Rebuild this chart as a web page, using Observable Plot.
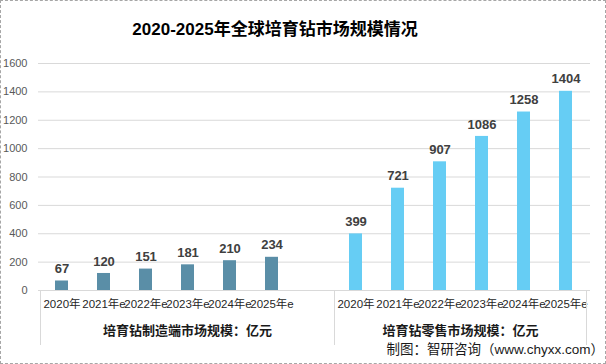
<!DOCTYPE html>
<html>
<head>
<meta charset="utf-8">
<script src="https://cdn.jsdelivr.net/npm/d3@7"></script>
<script src="https://cdn.jsdelivr.net/npm/@observablehq/plot@0.6"></script>
<style>
  html, body { margin: 0; padding: 0; background: #fff; }
  #wrap { position: relative; width: 606px; height: 364px; overflow: hidden; background: #fff;
          font-family: "Liberation Sans", "Noto Sans CJK SC", sans-serif; }
  #wrap svg { position: absolute; left: 0; top: 0; }
  #title { position: absolute; left: 0; width: 550px; top: 20px; text-align: center;
           font-size: 17px; line-height: 20px; font-weight: bold; color: #000; }
  #footer { position: absolute; right: 2px; top: 342px; font-size: 13.5px; line-height: 16px; color: #1a1a1a; white-space: nowrap; }
  #border { position: absolute; left: 0; top: 0; right: 0; bottom: 0; border: 1px dashed #a6a6a6; pointer-events: none; }
  .catlabel text { letter-spacing: -0.25px; }
</style>
</head>
<body>
<div id="wrap">
  <div id="title"></div>
  <div id="footer"></div>
  <div id="border"></div>
</div>
<script>
const titleText = "2020-2025年全球培育钻市场规模情况";
const footerText = "制图：智研咨询（www.chyxx.com）";
const years = ["2020年", "2021年e", "2022年e", "2023年e", "2024年e", "2025年e"];
const groups = ["培育钻制造端市场规模：亿元", "培育钻零售市场规模：亿元"];
const manufacturing = [67, 120, 151, 181, 210, 234];
const retail = [399, 721, 907, 1086, 1258, 1404];
const yTicks = [0, 200, 400, 600, 800, 1000, 1200, 1400, 1600];
const colors = ["#5A8EA7", "#66CDF4"];

document.getElementById("title").textContent = titleText;
document.getElementById("footer").textContent = footerText;

const series = [manufacturing, retail];
const rows = [];
groups.forEach((g, gi) => years.forEach((yr, i) => rows.push({group: g, year: yr, key: gi + "|" + yr, value: series[gi][i]})));
const blankKey = "0|blank";
const domainX = [...rows.filter(d => d.group === groups[0]).map(d => d.key), blankKey,
                 ...rows.filter(d => d.group === groups[1]).map(d => d.key)];
const groupKeys = [
  [...rows.filter(d => d.group === groups[0]).map(d => d.key), blankKey],
  rows.filter(d => d.group === groups[1]).map(d => d.key)
];

const font = "Liberation Sans, Noto Sans CJK SC, sans-serif";

function groupFrame(index, scales, values, dim) {
  const x = scales.x;
  const step = x.step(), bw = x.bandwidth();
  const pad = (step - bw) / 2;
  const yBottom = dim.height - dim.marginBottom;
  const g = d3.create("svg:g");
  const edges = [];
  groupKeys.forEach((keys, gi) => {
    const x0 = x(keys[0]) - pad;
    const x1 = x(keys[keys.length - 1]) + bw + pad;
    if (gi === 0) edges.push(x0);
    edges.push(x1);
    g.append("text")
      .attr("x", (x0 + x1) / 2)
      .attr("y", yBottom + 42)
      .attr("text-anchor", "middle")
      .attr("dominant-baseline", "middle")
      .attr("font-family", font)
      .attr("font-size", 13)
      .attr("font-weight", "bold")
      .attr("fill", "#1a1a1a")
      .text(groups[gi]);
  });
  edges.forEach(e => g.append("line")
    .attr("x1", e).attr("x2", e)
    .attr("y1", yBottom).attr("y2", yBottom + 55)
    .attr("stroke", "#d9d9d9"));
  return g.node();
}

const plot = Plot.plot({
  width: 606,
  height: 364,
  marginLeft: 38,
  marginRight: 16,
  marginTop: 63,
  marginBottom: 74,
  style: {background: "transparent", fontFamily: font},
  x: {domain: domainX, paddingInner: 0.69, paddingOuter: 0.345, axis: null},
  y: {domain: [0, 1600], ticks: yTicks, tickFormat: d => String(d), tickSize: 0, tickPadding: 11, label: null, fontSize: 11},
  color: {domain: groups, range: colors},
  marks: [
    Plot.ruleY(yTicks, {stroke: "#d9d9d9"}),
    Plot.barY(rows, {x: "key", y: "value", fill: "group"}),
    Plot.text(rows, {x: "key", y: "value", text: d => String(d.value), dy: -12,
      fontSize: 13, fontWeight: "bold", fill: "#404040"}),
    Plot.text(rows, {x: "key", text: "year", frameAnchor: "bottom", dy: 17,
      fontSize: 11.5, fill: "#262626", ariaLabel: "category label"}),
    groupFrame
  ]
});
plot.querySelectorAll("g[aria-label='category label']").forEach(g => g.classList.add("catlabel"));
const yAxisG = plot.querySelector("g[aria-label='y-axis tick label']") || plot.querySelector("g[aria-label='y-axis']");
if (yAxisG) {
  yAxisG.setAttribute("fill", "#595959");
  yAxisG.setAttribute("font-size", "11");
  yAxisG.querySelectorAll("text").forEach(t => t.setAttribute("fill", "#595959"));
}
document.getElementById("wrap").insertBefore(plot, document.getElementById("title"));
</script>
</body>
</html>
